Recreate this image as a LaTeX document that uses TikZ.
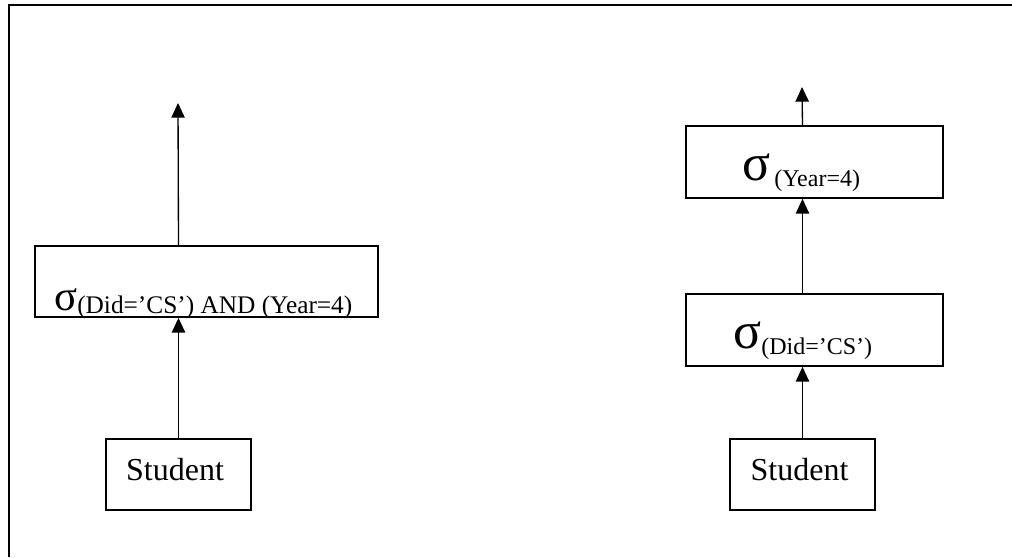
\documentclass[tikz,border=0pt]{standalone}
\usepackage{fontspec}
\setmainfont{Liberation Serif}
\usetikzlibrary{arrows.meta}
\usetikzlibrary{positioning}

\tikzset{
  opbox/.style={draw, line width=1.3pt, inner sep=0pt},
  flow/.style={line width=1pt, -{Triangle[width=10pt,length=11pt]}},
  optext/.style={anchor=base west, inner sep=0pt},
  reltext/.style={anchor=base, inner sep=0pt, font=\fontsize{24}{24}\selectfont}
}

\begin{document}
\begin{tikzpicture}[x=0.75pt,y=-0.75pt]
\useasboundingbox (0,0) rectangle (1012,557);
\draw[line width=1.5pt] (9,557) -- (9,5) -- (1012,5);

% single selection with both conditions
\node[opbox, minimum width=257.25pt, minimum height=53.25pt] (both) at (206.5,281.5) {};
\node[opbox, minimum width=108.75pt, minimum height=53.25pt] (stuA) at (178.5,474.5) {};
\node[optext] (bothtxt) at (54,310) {{\fontsize{32}{32}\selectfont σ}\raisebox{-2.25pt}{\fontsize{19}{19}\selectfont (Did=’CS’) AND (Year=4)}};
\node[reltext] (stuAtxt) at (175,480) {Student};
\coordinate (outA) at (178,103);

\draw[flow] (stuA.north) -- (stuA.north |- both.south);
\draw[flow] (stuA.north |- both.north) -- (outA);

% the same selection split in two steps
\node[opbox, minimum width=192.75pt, minimum height=54pt] (year) at (814.5,162) {};
\node[opbox, minimum width=192.75pt, minimum height=54pt] (did) at (814.5,330) {};
\node[opbox, minimum width=108.75pt, minimum height=53.25pt] (stuB) at (802.5,474.5) {};
\node[optext] (yeartxt) at (742,180) {{\fontsize{39}{39}\selectfont σ}\hspace{3pt}\raisebox{-4.5pt}{\fontsize{18}{18}\selectfont (Year=4)}};
\node[optext] (didtxt) at (733,348) {{\fontsize{39}{39}\selectfont σ}\raisebox{-4.5pt}{\fontsize{18}{18}\selectfont (Did=’CS’)}};
\node[reltext] (stuBtxt) at (799.5,480) {Student};
\coordinate (outB) at (802,87);

\draw[flow] (stuB.north) -- (stuB.north |- did.south);
\draw[flow] (stuB.north |- did.north) -- (stuB.north |- year.south);
\draw[flow] (stuB.north |- year.north) -- (outB);
\end{tikzpicture}
\end{document}
